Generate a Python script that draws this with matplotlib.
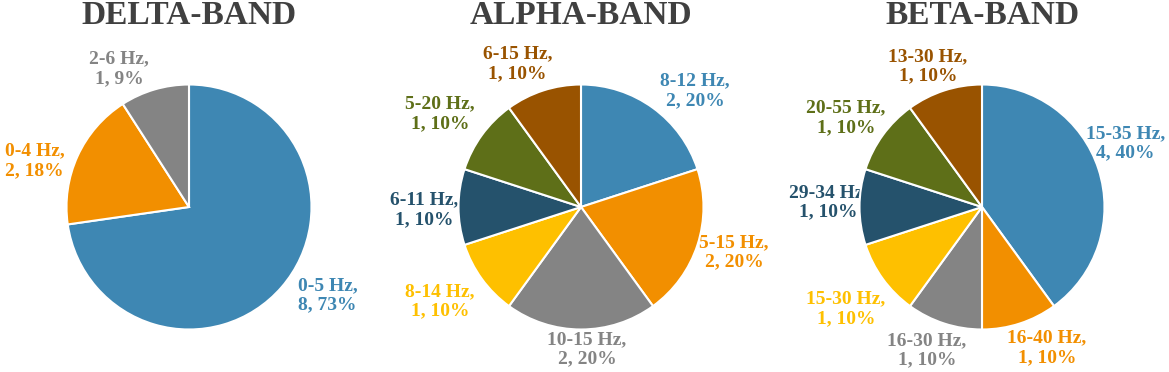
import matplotlib.pyplot as plt

# data
bands = ['DELTA-BAND', 'ALPHA-BAND', 'BETA-BAND']
delta_labels = ['0-5 Hz', '0-4 Hz', '2-6 Hz']
delta_counts = [8, 2, 1]
delta_pct = [73, 18, 9]
alpha_labels = ['8-12 Hz', '5-15 Hz', '10-15 Hz', '8-14 Hz', '6-11 Hz', '5-20 Hz', '6-15 Hz']
alpha_counts = [2, 2, 2, 1, 1, 1, 1]
alpha_pct = [20, 20, 20, 10, 10, 10, 10]
beta_labels = ['15-35 Hz', '16-40 Hz', '16-30 Hz', '15-30 Hz', '29-34 Hz', '20-55 Hz', '13-30 Hz']
beta_counts = [4, 1, 1, 1, 1, 1, 1]
beta_pct = [40, 10, 10, 10, 10, 10, 10]

colors = ['#3E87B3', '#F28F00', '#848484', '#FEC000', '#25526C', '#5E6F18', '#995300']

# label offsets in units of pie radius (layout only)
delta_pos = [(1.13, -0.72), (-1.26, 0.38), (-0.57, 1.13)]
alpha_pos = [(0.93, 0.95), (1.25, -0.37), (0.05, -1.16), (-1.15, -0.77),
             (-1.28, -0.02), (-1.15, 0.76), (-0.52, 1.17)]
beta_pos = [(1.17, 0.52), (0.53, -1.15), (-0.45, -1.17), (-1.11, -0.83),
            (-1.255, 0.04), (-1.11, 0.73), (-0.44, 1.15)]

W, H = 1169, 372
fig = plt.figure(figsize=(W / 100, H / 100), dpi=100)
font = 'Liberation Serif'

centers = [189, 581, 982]
cy = 165
r = 122.5
half = 200

panels = [(delta_labels, delta_counts, delta_pct, delta_pos),
          (alpha_labels, alpha_counts, alpha_pct, alpha_pos),
          (beta_labels, beta_counts, beta_pct, beta_pos)]

for i, (labels, counts, pct, pos) in enumerate(panels):
    cx = centers[i]
    ax = fig.add_axes([(cx - half) / W, 0, 2 * half / W, 1])
    ax.pie(counts, colors=colors[:len(counts)], startangle=90, counterclock=False,
           wedgeprops=dict(edgecolor='white', linewidth=1.5))
    ax.set_aspect('auto')
    ax.set_xlim(-half / r, half / r)
    ax.set_ylim(-cy / r, (H - cy) / r)
    ax.axis('off')
    for j, lab in enumerate(labels):
        x, y = pos[j]
        ax.text(x, y, f'{lab},\n{counts[j]}, {pct[j]}%', ha='center', va='center',
                fontsize=14, fontweight='bold', family=font, color=colors[j],
                linespacing=1.2, zorder=0.5)
    ax.text(0, (H - 16 - cy) / r, bands[i], ha='center', va='center',
            fontsize=24, fontweight='bold', family=font, color='#404040')

fig.savefig('out.png', dpi=100)
